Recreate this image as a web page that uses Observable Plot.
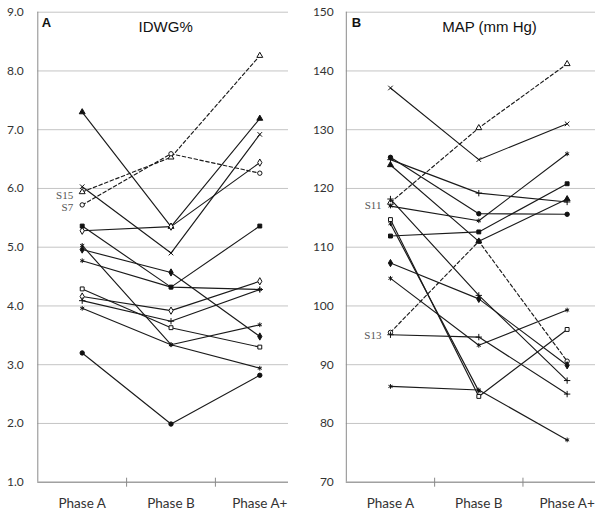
<!DOCTYPE html>
<html><head><meta charset="utf-8">
<script src="https://cdn.jsdelivr.net/npm/d3@7"></script>
<script src="https://cdn.jsdelivr.net/npm/@observablehq/plot@0.6"></script>
<style>
body{margin:0;background:#fff}
#wrap{position:relative;width:602px;height:514px;background:#fff}
.panel{position:absolute;top:0}
</style>
</head><body>
<div id="wrap"><div id="pa" class="panel" style="left:0"></div><div id="pb" class="panel" style="left:300px"></div></div>
<script>
// ---- data ----
const phases = ["Phase A", "Phase B", "Phase A+"];

// Panel A: IDWG%
const idwgIds      = ["a1","S15","S7","a4","a5","a6","a7","a8","a9","a10","a11","a12","a13","a14"];
const idwgPhaseA   = [7.30, 5.94, 5.72, 6.03, 5.28, 5.36, 4.77, 4.29, 4.16, 4.09, 3.96, 3.20, 4.96, 5.03];
const idwgPhaseB   = [5.35, 6.53, 6.59, 4.90, 5.35, 4.32, 4.32, 3.63, 3.92, 3.74, 3.34, 1.99, 4.57, 3.34];
const idwgPhaseAp  = [7.19, 8.26, 6.26, 6.92, 6.44, 5.36, 4.28, 3.30, 4.42, 4.28, 2.94, 2.82, 3.48, 3.68];
const idwgTicks    = [1, 2, 3, 4, 5, 6, 7, 8, 9];
const idwgLabelled = ["S15", "S7"];

// Panel B: MAP (mm Hg)
const mapIds      = ["b1","S11","S13","b4","b5","b6","b7","b8","b9","b10","b11","b12","b13","b14","b15"];
const mapPhaseA   = [137.1, 117.6, 95.5, 125.3, 124.9, 124.0, 117.0, 118.2, 114.7, 86.3, 111.9, 104.7, 107.3, 95.1, 114.0];
const mapPhaseB   = [124.9, 130.3, 111.0, 115.7, 119.2, 111.0, 114.5, 101.8, 84.6, 85.7, 112.6, 93.3, 101.2, 94.7, 85.5];
const mapPhaseAp  = [131.0, 141.2, 90.6, 115.6, 117.7, 118.2, 125.9, 87.3, 96.0, 77.2, 120.8, 99.3, 89.9, 85.0, null];
const mapTicks    = [70, 80, 90, 100, 110, 120, 130, 140, 150];
const mapLabelled = ["S11", "S13"];

// ---- styles (markers / dashes per series) ----
const idwgStyle = [
  {s:"triangle", f:1}, {s:"triangle", f:0, d:1}, {s:"circle", f:0, d:1}, {s:"times", f:0},
  {s:"diamond", f:0}, {s:"square", f:1}, {s:"asterisk", f:0}, {s:"square", f:0},
  {s:"diamond", f:0}, {s:"plus", f:0}, {s:"asterisk", f:0}, {s:"circle", f:1},
  {s:"diamond", f:1}, {s:"asterisk", f:0}
];
const mapStyle = [
  {s:"times", f:0}, {s:"triangle", f:0, d:1}, {s:"circle", f:0, d:1}, {s:"circle", f:1},
  {s:"plus", f:0}, {s:"triangle", f:1}, {s:"asterisk", f:0}, {s:"plus", f:0},
  {s:"square", f:0}, {s:"asterisk", f:0}, {s:"square", f:1}, {s:"asterisk", f:0},
  {s:"diamond", f:1}, {s:"plus", f:0}, {s:"asterisk", f:0}
];

function panel(cfg) {
  const rows = [];
  cfg.ids.forEach((id, i) => {
    [cfg.a[i], cfg.b[i], cfg.c[i]].forEach((v, j) => {
      if (v != null) rows.push({id, idx: i, phase: phases[j], pos: j + 0.5, value: v});
    });
  });
  const y0 = cfg.yDomain[0];
  const marks = [
    Plot.gridY({ticks: cfg.ticks, stroke: "#c4c4c4", strokeOpacity: 1}),
    Plot.ruleY([y0], {stroke: "#8a8a8a"}),
    Plot.ruleX([0], {stroke: "#8a8a8a"}),
    Plot.ruleX([1, 2], {y1: () => y0, y2: () => y0, insetTop: -4, insetBottom: -5, stroke: "#8a8a8a"}),
    Plot.axisY({ticks: cfg.ticks, tickFormat: cfg.fmt, tickSize: 0, tickPadding: cfg.yPad, fontSize: 12, label: null}),
    Plot.axisX({ticks: [0.5, 1.5, 2.5], tickFormat: d => phases[Math.floor(d)], tickSize: 0, tickPadding: 16, fontSize: 13.5, label: null})
  ];
  cfg.ids.forEach((id, i) => {
    const st = cfg.styles[i];
    marks.push(Plot.line(rows.filter(r => r.idx === i), {
      x: "pos", y: "value", stroke: "#1a1a1a", strokeWidth: 1.15,
      strokeDasharray: st.d ? "3.5,2.5" : undefined
    }));
  });
  cfg.ids.forEach((id, i) => {
    const st = cfg.styles[i];
    marks.push(Plot.dot(rows.filter(r => r.idx === i), {
      x: "pos", y: "value", symbol: st.s, r: 2.2,
      fill: st.f ? "#111" : "white", stroke: "#111", strokeWidth: 1
    }));
  });
  marks.push(Plot.text(rows.filter(r => r.pos === 0.5 && cfg.labelled.includes(r.id)), {
    x: "pos", y: "value", text: "id", textAnchor: "end", dx: -9, dy: 3,
    fontFamily: "Liberation Serif", fontSize: 11, fill: "#555"
  }));
  marks.push(Plot.text([cfg.title], {frameAnchor: "top", text: d => d, lineAnchor: "middle",
    dx: cfg.titleDx, dy: 15.2, fontFamily: "Liberation Sans", fontSize: 15, fill: "#111"}));
  marks.push(Plot.text([cfg.letter], {frameAnchor: "top-left", text: d => d, lineAnchor: "middle", textAnchor: "start",
    dx: cfg.letterDx, dy: 10.8, fontFamily: "Liberation Sans", fontWeight: "bold", fontSize: 13, fill: "#111"}));
  return Plot.plot({
    width: cfg.width, height: 514,
    marginLeft: cfg.marginLeft, marginRight: cfg.marginRight, marginTop: 11.7, marginBottom: 32.3,
    x: {domain: [0, 3], range: cfg.xRange},
    y: {domain: cfg.yDomain, range: [481.7, 11.7]},
    style: {fontFamily: "Lato, 'Open Sans', sans-serif", color: "#333", background: "white"},
    marks
  });
}

document.getElementById("pa").append(panel({
  ids: idwgIds, a: idwgPhaseA, b: idwgPhaseB, c: idwgPhaseAp, styles: idwgStyle, labelled: idwgLabelled,
  ticks: idwgTicks, fmt: d3.format(".1f"), yDomain: [1, 9], yPad: 14,
  width: 300, marginLeft: 37.3, marginRight: 12, xRange: [37.3, 303.7],
  title: "IDWG%", titleDx: 2.5, letter: "A", letterDx: 4
}));
document.getElementById("pb").append(panel({
  ids: mapIds, a: mapPhaseA, b: mapPhaseB, c: mapPhaseAp, styles: mapStyle, labelled: mapLabelled,
  ticks: mapTicks, fmt: d3.format("d"), yDomain: [70, 150], yPad: 12.5,
  width: 302, marginLeft: 45.8, marginRight: 7, xRange: [45.8, 310.8],
  title: "MAP (mm Hg)", titleDx: 18.6, letter: "B", letterDx: 5.5
}));
</script>
</body></html>
